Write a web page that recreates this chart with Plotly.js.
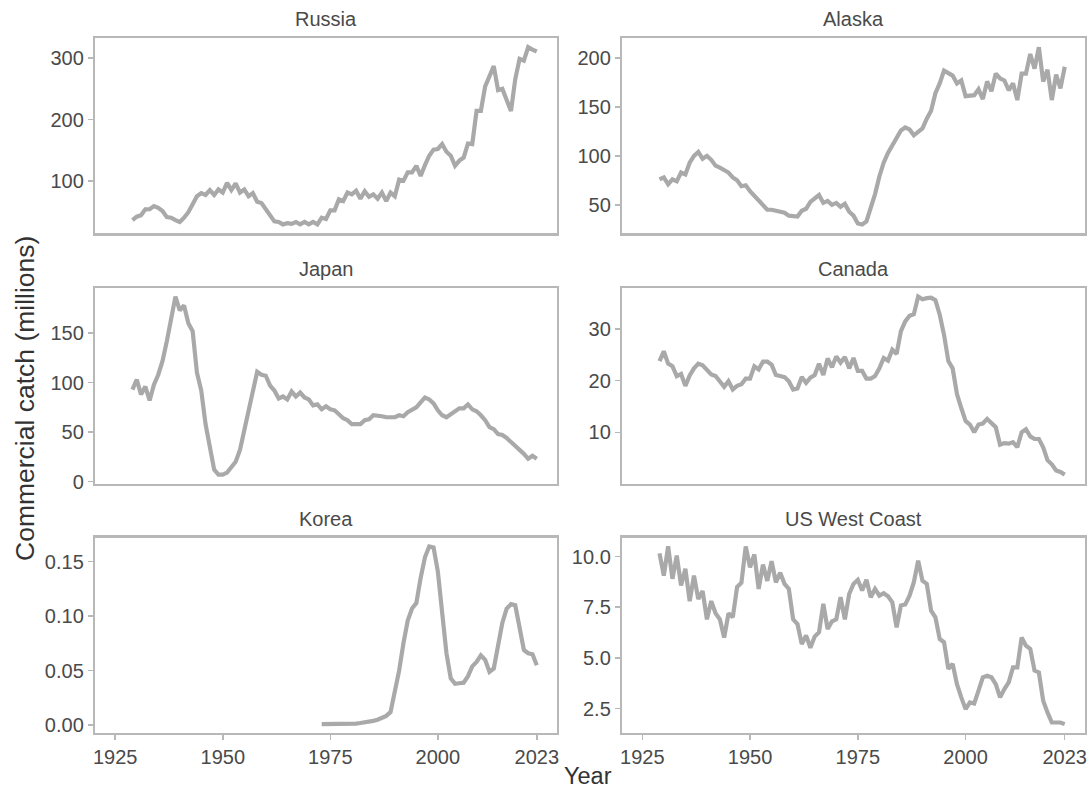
<!DOCTYPE html>
<html>
<head>
<meta charset="utf-8">
<script src="https://cdn.plot.ly/plotly-3.0.1.min.js"></script>
<style>
  html, body { margin: 0; padding: 0; background: #ffffff; }
  #chart { width: 1091px; height: 791px; }
</style>
</head>
<body>
<div id="chart"></div>
<script>
// Commercial catch by region, millions of fish, 1929-2023
const years = [
  1929,1930,1931,1932,1933,1934,1935,1936,1937,1938,
  1939,1940,1941,1942,1943,1944,1945,1946,1947,1948,
  1949,1950,1951,1952,1953,1954,1955,1956,1957,1958,
  1959,1960,1961,1962,1963,1964,1965,1966,1967,1968,
  1969,1970,1971,1972,1973,1974,1975,1976,1977,1978,
  1979,1980,1981,1982,1983,1984,1985,1986,1987,1988,
  1989,1990,1991,1992,1993,1994,1995,1996,1997,1998,
  1999,2000,2001,2002,2003,2004,2005,2006,2007,2008,
  2009,2010,2011,2012,2013,2014,2015,2016,2017,2018,
  2019,2020,2021,2022,2023
];

const koreaYears = [
  1973,1974,1975,1976,1977,1978,1979,
  1980,1981,1982,1983,1984,1985,1986,1987,1988,1989,
  1990,1991,1992,1993,1994,1995,1996,1997,1998,1999,
  2000,2001,2002,2003,2004,2005,2006,2007,2008,2009,
  2010,2011,2012,2013,2014,2015,2016,2017,2018,2019,
  2020,2021,2022,2023
];

const russia = [
  36,41.7,44,53.7,54,59,56,51,41,40,
  36,33,40,49,62,75,80,77,85,77,
  86,81,97,85,96,81,86,75,80,66,
  64,54,46,34,33,29,31,30,33,29,
  33,29,33,29,40,38,52,52,70,67,
  81,78,84,71,83,74,78,71,81,67,
  81,75,102,100,114,114,124.5,108,125.6,141,
  151,152,160,147.6,141,124.5,133,138,161,160,
  214,214,254,269,287,248,250,232,214,266,
  299,296,318,314,311
];

const alaska = [
  76,78,71,76,74,83,81,93,100,104,
  97,100,96,90,88,86,83,78,75,69,
  70,64,59,55,49,45,45,44,43,42,
  39,39,38,44,46,53,56,60,52,54,
  50,52,48,51,43,39,31,30,33,46,
  61,79,93,103,111,119,126,129,127,121,
  124,128,138,146,164,174,187,184,182,174,
  177,161,161,162,168,158,176,166,184,179,
  177,167,174,157,184,184,204,189,211,176,
  188,157,183,169,191
];

const japan = [
  93,103,88,96,82,98,108,122,142,165,
  187,173,178,160,152,110,92,58,35,12,
  7,7,9,14,20,32,52,72,92,111,
  108,107,97,92,84,86,83,91,86,90,
  85,83,77,78,73,76,73,72,68,64,
  62,58,58,58,62,63,67,67,66,65,
  65,65,67,66,70,73,75,80,85,83,
  79,72,67,65,68,72,74,74,78,73,
  71,67,62,55,53,48,47,44,40,37,
  32,28,23,26,23
];

const canada = [
  23.8,25.7,23.3,22.8,20.9,21.3,19.0,21.0,22.4,23.3,
  23.0,22.0,21.2,20.9,19.9,18.8,19.9,18.3,19.0,19.3,
  20.4,20.4,22.8,22.2,23.7,23.7,23.1,21.1,20.9,20.7,
  19.9,18.3,18.5,20.7,19.6,20.6,21.1,23.3,21.1,24.3,
  22.6,24.7,23.5,24.6,22.4,24.4,21.9,21.9,20.4,20.4,
  20.9,22.4,24.4,23.9,26.0,25.2,29.6,31.5,32.6,32.9,
  36.3,35.8,36.0,36.1,35.6,32.8,28.9,23.8,22.4,17.4,
  14.7,12.2,11.5,10.0,11.5,11.7,12.6,11.9,11.0,7.6,
  7.9,7.8,8.1,7.1,10.0,10.6,9.2,8.7,8.7,7.1,
  4.6,3.8,2.6,2.3,1.8
];

const korea = [
  0.001,0.001,0.001,0.001,0.001,0.001,0.001,
  0.0012,0.0015,0.002,0.0025,0.0032,0.004,0.005,0.0065,0.0085,0.012,
  0.029,0.050,0.075,0.096,0.107,0.112,0.135,0.154,0.164,0.163,
  0.141,0.105,0.066,0.043,0.038,0.0385,0.039,0.045,0.054,0.058,
  0.064,0.060,0.049,0.052,0.075,0.094,0.107,0.111,0.110,0.090,
  0.069,0.066,0.065,0.055
];

const usWestCoast = [
  10.16,9.06,10.5,8.9,10.05,8.57,9.4,7.8,9.06,7.9,
  8.3,6.9,7.8,7.2,6.9,6.0,7.2,7.0,8.5,8.7,
  10.5,9.47,10.1,8.4,9.6,8.8,9.77,8.73,9.2,8.65,
  8.4,6.9,6.67,5.68,6.1,5.5,6.05,6.26,7.66,6.42,
  6.8,6.9,7.99,6.9,8.15,8.65,8.85,8.32,8.85,7.99,
  8.4,8.07,8.19,8.04,7.74,6.5,7.58,7.63,8.07,8.73,
  9.8,8.8,8.65,7.33,7.0,5.93,5.77,4.45,4.7,3.7,
  3.05,2.47,2.8,2.75,3.38,4.04,4.12,4.04,3.7,3.05,
  3.46,3.79,4.53,4.53,6.0,5.6,5.44,4.37,4.28,2.88,
  2.31,1.81,1.81,1.81,1.73
];

const regionNames = ['Russia', 'Alaska', 'Japan', 'Canada', 'Korea', 'US West Coast'];
const yearTicks = [1925, 1950, 1975, 2000, 2023];
const russiaTicks = [100, 200, 300];
const alaskaTicks = [50, 100, 150, 200];
const japanTicks = [0, 50, 100, 150];
const canadaTicks = [10, 20, 30];
const koreaTicks = [0, 0.05, 0.10, 0.15];
const usTicks = [2.5, 5, 7.5, 10];

const panels = [
  { name: regionNames[0], x: years,      y: russia,      ticks: russiaTicks, fmt: '' },
  { name: regionNames[1], x: years,      y: alaska,      ticks: alaskaTicks, fmt: '' },
  { name: regionNames[2], x: years,      y: japan,       ticks: japanTicks,  fmt: '' },
  { name: regionNames[3], x: years,      y: canada,      ticks: canadaTicks, fmt: '' },
  { name: regionNames[4], x: koreaYears, y: korea,       ticks: koreaTicks,  fmt: '.2f' },
  { name: regionNames[5], x: years,      y: usWestCoast, ticks: usTicks,     fmt: '.1f' }
];

// Panel frames in pixels (left, right, top, bottom) on a 1091 x 791 page
const W = 1091, H = 791;
const colPx = [[95, 557], [622, 1085]];
const rowPx = [[38.3, 233.3], [287.7, 483.5], [537.5, 733]];

const FONT = 'Liberation Sans, Arial, Helvetica, sans-serif';
const frameColor = '#b8b8b8';
const lineColor = '#a9a9a9';
const tickText = '#4a4a4a';

const data = [];
const layout = {
  width: W, height: H,
  margin: { l: 0, r: 0, t: 0, b: 0 },
  paper_bgcolor: '#ffffff',
  plot_bgcolor: '#ffffff',
  showlegend: false,
  font: { family: FONT, color: tickText },
  annotations: []
};

// Pad each value range by 5% on both sides
function paddedRange(vals) {
  const lo = Math.min(...vals), hi = Math.max(...vals);
  const pad = (hi - lo) * 0.05;
  return [lo - pad, hi + pad];
}

panels.forEach((p, i) => {
  const row = Math.floor(i / 2), col = i % 2;
  const suffix = i === 0 ? '' : String(i + 1);
  const bottomRow = row === 2;
  const xd = [colPx[col][0] / W, colPx[col][1] / W];
  const yd = [1 - rowPx[row][1] / H, 1 - rowPx[row][0] / H];

  data.push({
    type: 'scatter', mode: 'lines',
    x: p.x, y: p.y,
    xaxis: 'x' + suffix, yaxis: 'y' + suffix,
    line: { color: lineColor, width: 4.2 },
    hoverinfo: 'skip'
  });

  layout['xaxis' + suffix] = {
    domain: xd,
    anchor: 'y' + suffix,
    range: [1920.3, 2027.7],
    tickmode: 'array',
    tickvals: yearTicks,
    ticks: bottomRow ? 'outside' : '',
    showticklabels: bottomRow,
    ticklen: 5, tickwidth: 1.5, tickcolor: frameColor,
    tickfont: { size: 20, color: tickText, family: FONT },
    showline: true, mirror: true, linecolor: frameColor, linewidth: 2.2,
    showgrid: false, zeroline: false, automargin: false
  };

  layout['yaxis' + suffix] = {
    domain: yd,
    anchor: 'x' + suffix,
    range: paddedRange(p.y),
    tickmode: 'array',
    tickvals: p.ticks,
    tickformat: p.fmt,
    ticks: 'outside',
    ticklen: 5, tickwidth: 1.5, tickcolor: frameColor,
    tickfont: { size: 20, color: tickText, family: FONT },
    showline: true, mirror: true, linecolor: frameColor, linewidth: 2.2,
    showgrid: false, zeroline: false, automargin: false
  };

  layout.annotations.push({
    text: p.name,
    xref: 'paper', yref: 'paper',
    x: (xd[0] + xd[1]) / 2,
    y: 1 - (rowPx[row][0] - 19) / H,
    xanchor: 'center', yanchor: 'middle',
    showarrow: false,
    font: { size: 20, color: '#4a4a4a', family: FONT }
  });
});

// Shared axis titles
layout.annotations.push({
  text: 'Year',
  xref: 'paper', yref: 'paper',
  x: 588 / W, y: 1 - 776 / H,
  xanchor: 'center', yanchor: 'middle',
  showarrow: false,
  font: { size: 23.5, color: '#333333', family: FONT }
});
layout.annotations.push({
  text: 'Commercial catch (millions)',
  xref: 'paper', yref: 'paper',
  x: 25 / W, y: 1 - 399 / H,
  xanchor: 'center', yanchor: 'middle',
  textangle: -90,
  showarrow: false,
  font: { size: 26.5, color: '#333333', family: FONT }
});

Plotly.newPlot('chart', data, layout, { staticPlot: true, displayModeBar: false });
</script>
</body>
</html>
